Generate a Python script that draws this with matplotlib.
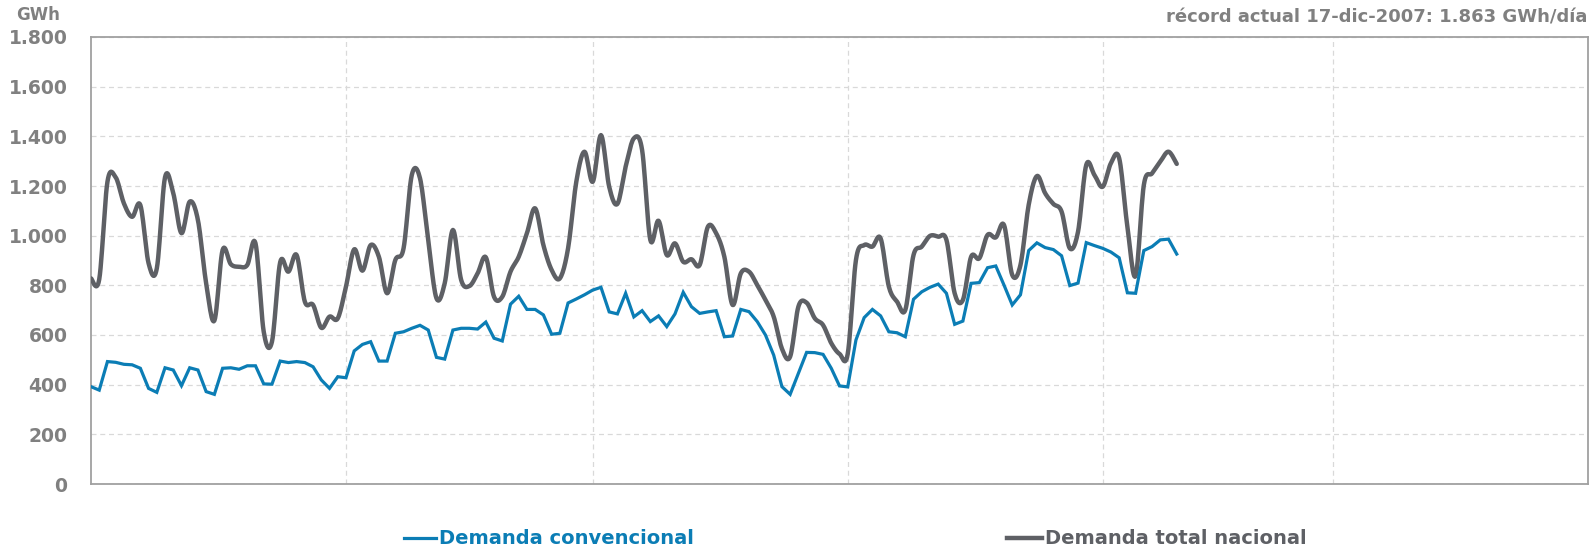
import numpy as np
import matplotlib
matplotlib.use("Agg")
from matplotlib import pyplot as plt
from matplotlib.lines import Line2D

# daily values, GWh (day 0 = 1 Oct)
conv = [392, 378, 493, 490, 482, 480, 466, 385, 369, 468, 459, 396, 468, 459,
        372, 361, 466, 468, 462, 476, 476, 403, 402, 495, 489, 493, 489, 472,
        419, 385, 432, 428, 536, 562, 573, 495, 495, 607,
        613, 627, 639, 620, 510, 503, 620, 627, 627, 624, 652, 587, 576, 724,
        756, 703, 703, 681, 603, 607, 729, 745, 762, 781, 792, 693, 685, 768,
        673, 698, 654, 677, 634, 685, 772, 714, 687, 693, 698, 593, 596, 703,
        694, 654, 600, 519,
        392, 361, 446, 530, 529, 522, 466, 395, 391, 580, 670, 703, 677, 613,
        609, 593, 744, 774, 792, 805, 768, 643, 656, 808, 811, 871, 878, 801,
        721, 762, 940, 971, 952, 944, 919, 799, 809, 972, 960, 949, 934, 911,
        770, 768, 940, 956, 983, 986, 926]
total = [828, 824, 1217, 1235, 1130, 1076, 1123, 889, 868, 1235, 1171, 1010,
         1137, 1063, 808, 658, 942, 885, 875, 882, 969, 613, 573, 893, 855, 922,
         734, 721, 629, 674, 667, 795, 945, 859, 962,
         915, 768, 902, 949, 1244, 1231, 980, 748, 808, 1023, 822, 797, 848, 913,
         754, 754, 855, 915, 1010, 1110, 962, 862, 828, 949, 1217, 1338, 1217,
         1405, 1197, 1128, 1278, 1392, 1345, 983, 1060, 922, 969, 895, 905, 882,
         1036, 1010, 915, 721, 848, 855, 801, 741, 674, 545, 513,
         714, 730, 667, 640, 567, 524, 524, 902, 962, 956, 989, 795, 734, 701,
         922, 956, 999, 996, 983, 768, 741, 915, 909, 1003, 993, 1043, 842, 882,
         1124, 1240, 1171, 1128, 1097, 949, 1016, 1285, 1244, 1197, 1292, 1312,
         1036, 838, 1204, 1251, 1298, 1338, 1289]
month_days = [31, 30, 31, 31, 28, 31]   # Oct..Mar

BLUE = '#0b7db5'
GREY = '#5e6065'
LABEL = '#808080'


def smooth(x, y, n=12):
    # bezier smoothing like a spreadsheet "smoothed line"
    p = np.column_stack([x, y]).astype(float)
    p = np.vstack([p[0], p, p[-1]])
    t = np.linspace(0, 1, n, endpoint=False)[:, None]
    out = []
    for i in range(1, len(p) - 2):
        p0, p1, p2, p3 = p[i - 1], p[i], p[i + 1], p[i + 2]
        c1 = p1 + (p2 - p0) / 6
        c2 = p2 - (p3 - p1) / 6
        seg = ((1 - t) ** 3 * p1 + 3 * (1 - t) ** 2 * t * c1
               + 3 * (1 - t) * t ** 2 * c2 + t ** 3 * p2)
        out.append(seg)
    out.append(p[-2][None, :])
    out = np.vstack(out)
    return out[:, 0], out[:, 1]


plt.rcParams['font.family'] = 'DejaVu Sans'
plt.rcParams['font.weight'] = 'bold'

fig = plt.figure(figsize=(15.9, 5.49), dpi=100)
ax = fig.add_axes([91 / 1590, 1 - 484 / 549, 1497 / 1590, 447 / 549])

days = np.arange(len(conv))
sx, sy = smooth(days, total)
ax.plot(sx, sy, color=GREY, lw=3.2, solid_capstyle='round',
        solid_joinstyle='round', zorder=3)
ax.plot(days, conv, color=BLUE, lw=2.3, solid_joinstyle='miter', zorder=4)

ax.set_xlim(0, sum(month_days))
ax.set_ylim(0, 1800)
ax.set_yticks(np.arange(0, 1801, 200))
ax.set_yticklabels([f"{v:,}".replace(',', '.') for v in range(0, 1801, 200)],
                   fontsize=13.5, color=LABEL, fontweight='bold')
ax.set_xticks(np.cumsum(month_days)[:-1])
ax.set_xticklabels([])
ax.tick_params(length=0)
ax.tick_params(axis='y', pad=17)
ax.grid(True, color='#d9d9d9', ls=(0, (4, 3)), lw=0.9)
for s in ax.spines.values():
    s.set_color('#a0a0a0')
    s.set_linewidth(1.3)

fig.text(16 / 1590, 1 - 15 / 549, 'GWh', fontsize=12, color=LABEL,
         fontweight='bold', va='center')
fig.text(1587 / 1590, 1 - 17 / 549, 'récord actual 17-dic-2007: 1.863 GWh/día',
         fontsize=13, color=LABEL, fontweight='bold', va='center', ha='right')

# legend
ly = 1 - 538 / 549
fig.add_artist(Line2D([404 / 1590, 436 / 1590], [ly, ly], color=BLUE, lw=2.3))
fig.text(439 / 1590, ly, 'Demanda convencional', color=BLUE, fontsize=14,
         fontweight='bold', va='center')
fig.add_artist(Line2D([1007 / 1590, 1042 / 1590], [ly, ly], color=GREY, lw=3.2))
fig.text(1045 / 1590, ly, 'Demanda total nacional', color=GREY, fontsize=14,
         fontweight='bold', va='center')

fig.savefig('out.png', dpi=100)
